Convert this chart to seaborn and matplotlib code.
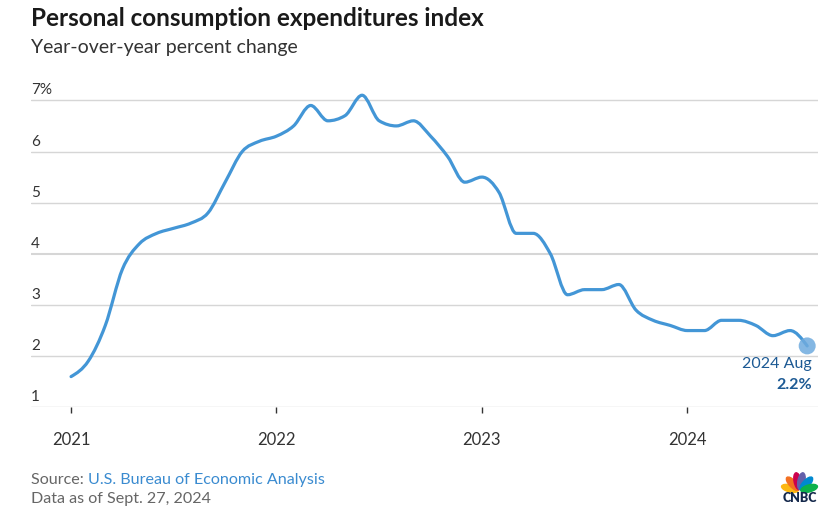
import numpy as np
import pandas as pd
import matplotlib
matplotlib.use("Agg")
import matplotlib.pyplot as plt
import seaborn as sns
from matplotlib.path import Path
from matplotlib.patches import PathPatch, Ellipse
import matplotlib.transforms as mtransforms

# ---------------- data ----------------
pce_2021 = [1.6, 1.9, 2.6, 3.7, 4.2, 4.4, 4.5, 4.6, 4.8, 5.4, 6.0, 6.2]
pce_2022 = [6.3, 6.5, 6.9, 6.6, 6.7, 7.1, 6.6, 6.5, 6.6, 6.3, 5.9, 5.4]
pce_2023 = [5.5, 5.2, 4.4, 4.4, 4.0, 3.2, 3.3, 3.3, 3.4, 2.9, 2.7, 2.6]
pce_2024 = [2.5, 2.5, 2.7, 2.7, 2.6, 2.4, 2.5, 2.2]
months = pd.period_range("2021-01", "2024-08", freq="M")
year_ticks = [2021, 2022, 2023, 2024]
y_ticks = [1, 2, 3, 4, 5, 6, 7]
title = "Personal consumption expenditures index"
subtitle = "Year-over-year percent change"
last_label = "2024 Aug"
last_value_label = "2.2%"

values = pce_2021 + pce_2022 + pce_2023 + pce_2024
df = pd.DataFrame({"x": months.year + (months.month - 1) / 12.0, "pce": values})

# ---------------- style ----------------
sns.set_style("white")
FONT = ["Lato", "DejaVu Sans"]
plt.rcParams["font.family"] = FONT

W, H = 837, 523
fig = plt.figure(figsize=(W / 100, H / 100), dpi=100)

def fx(px):
    return px / W

def fy(py):
    return (H - py) / H

ax_left, ax_right = 31, 818
ax_bottom_px, ax_top_px = 407.3, 85.0
ax = fig.add_axes([fx(ax_left), fy(ax_bottom_px), fx(ax_right - ax_left),
                   (ax_bottom_px - ax_top_px) / H])
ax.set_xlim(2020.805, 2024.636)
ax.set_ylim(1, 7.3)
for s in ax.spines.values():
    s.set_visible(False)

grid_c = "#d6d6d6"
for v in y_ticks:
    ax.axhline(v, color=grid_c, lw=1.5 if v == 4 else 1.0, zorder=1)

# smooth monotone curve (d3 curveMonotoneX style) through the data points
x = df["x"].to_numpy()
y = df["pce"].to_numpy()
h = np.diff(x)
s = np.diff(y) / h
t = np.zeros(len(x))
for i in range(1, len(x) - 1):
    s0, s1, h0, h1 = s[i - 1], s[i], h[i - 1], h[i]
    p = (s0 * h1 + s1 * h0) / (h0 + h1)
    sg = (-1 if s0 < 0 else 1) + (-1 if s1 < 0 else 1)
    t[i] = sg * min(abs(s0), abs(s1), 0.5 * abs(p))
t[0] = (3 * s[0] - t[1]) / 2
t[-1] = (3 * s[-1] - t[-2]) / 2
verts = [(x[0], y[0])]
codes = [Path.MOVETO]
for i in range(len(x) - 1):
    d = h[i] / 3
    verts += [(x[i] + d, y[i] + d * t[i]), (x[i + 1] - d, y[i + 1] - d * t[i + 1]),
              (x[i + 1], y[i + 1])]
    codes += [Path.CURVE4] * 3
line_c = "#4396d6"
ax.add_patch(PathPatch(Path(verts, codes), facecolor="none", edgecolor=line_c,
                       lw=2.3, capstyle="round", joinstyle="round", zorder=3))

# end point marker
sns.scatterplot(data=df.tail(1), x="x", y="pce", ax=ax, s=150, color="#6fabde",
                alpha=0.85, edgecolor="none", zorder=4, legend=False)
ax.set_xlabel("")
ax.set_ylabel("")

# y labels above grid lines
off = mtransforms.ScaledTranslation(0, 6 / 100, fig.dpi_scale_trans)
ytr = mtransforms.blended_transform_factory(ax.transAxes, ax.transData) + off
for v in y_ticks:
    lab = f"{v}%" if v == y_ticks[-1] else f"{v}"
    ax.text(0.0, v, lab, transform=ytr, ha="left", va="baseline",
            fontsize=11, color="#333333", family=FONT)
ax.set_yticks([])

# x ticks
ax.set_xticks(year_ticks)
ax.set_xticklabels([str(yv) for yv in year_ticks], fontsize=12, color="#333333")
ax.tick_params(axis="x", direction="out", length=4, width=1, color="#333333",
               pad=14, bottom=True)

# annotation of last value
ax.annotate(last_label, xy=(x[-1], y[-1]), xytext=(5, -22), textcoords="offset pixels",
            ha="right", va="baseline", fontsize=11.5, color="#1d5a94", family=FONT)
ax.annotate(last_value_label, xy=(x[-1], y[-1]), xytext=(5, -43), textcoords="offset pixels",
            ha="right", va="baseline", fontsize=11.5, color="#1d5a94",
            fontweight="bold", family=FONT)

# titles
fig.text(fx(31), fy(26), title, fontsize=17.5, fontweight="bold", color="#1a1a1a",
         ha="left", va="baseline", family=FONT)
fig.text(fx(31), fy(53), subtitle, fontsize=14, color="#333333",
         ha="left", va="baseline", family=FONT)

# footer
src = fig.text(fx(31), fy(484), "Source: ", fontsize=11.6, color="#666666",
               ha="left", va="baseline", family=FONT)
fig.canvas.draw()
bb = src.get_window_extent()
fig.text(bb.x1 / W, fy(484), "U.S. Bureau of Economic Analysis", fontsize=11.6,
         color="#3a8bd0", ha="left", va="baseline", family=FONT)
fig.text(fx(31), fy(503), "Data as of Sept. 27, 2024", fontsize=11.6, color="#666666",
         ha="left", va="baseline", family=FONT)

# CNBC logo (peacock)
cx, cy = 799.5, 491.0
feathers = [(165, "#fcb711"), (133, "#f37021"), (101, "#cc004c"),
            (79, "#6460aa"), (47, "#0089d0"), (15, "#0db14b")]
for ang, col in feathers:
    a = np.deg2rad(ang)
    ex, ey = cx + 10 * np.cos(a), cy - 10 * np.sin(a)
    e = Ellipse((ex, H - ey), width=17, height=7, angle=ang,
                transform=mtransforms.IdentityTransform(), color=col)
    e.set_figure(fig)
    fig.patches.append(e)
fig.text(fx(799.5), fy(502.5), "CNBC", fontsize=9, fontweight="heavy", color="#14284b",
         ha="center", va="baseline", family=FONT)

fig.savefig("out.png", dpi=100)
